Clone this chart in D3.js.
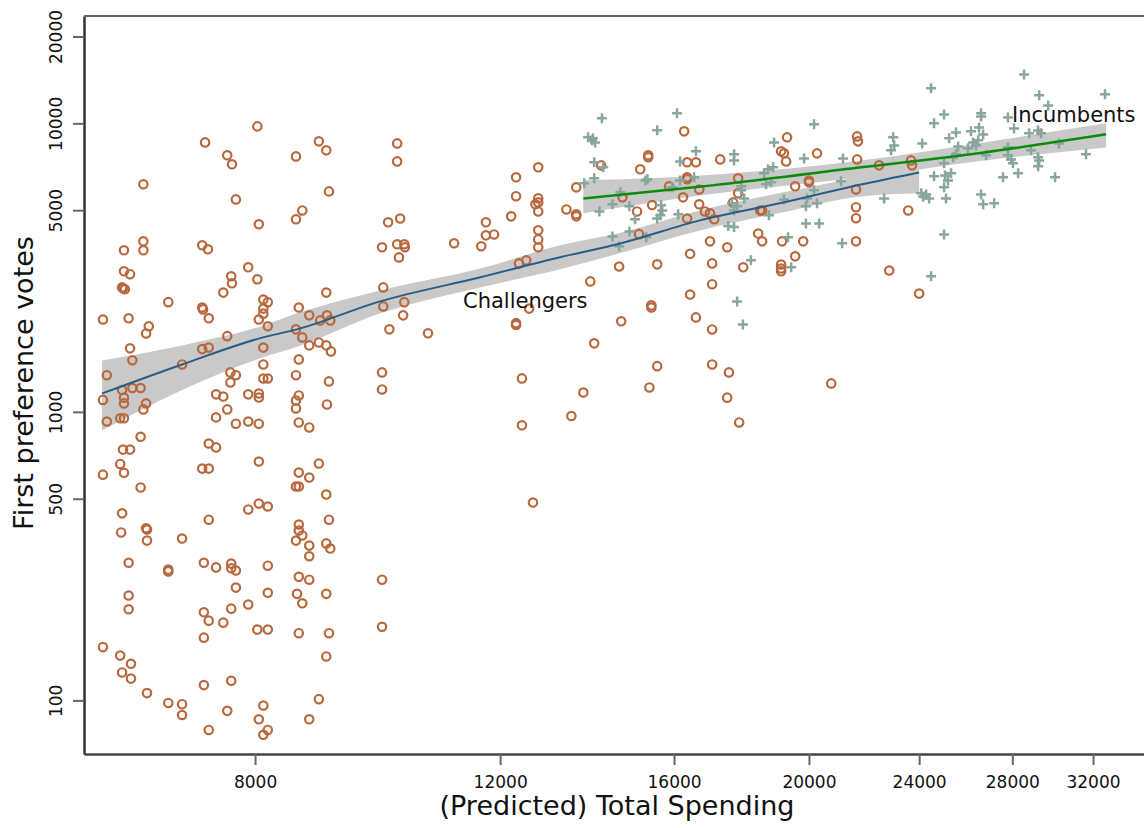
<!DOCTYPE html>
<html>
<head>
<meta charset="utf-8">
<script src="https://cdn.jsdelivr.net/npm/d3@7"></script>
<style>
    body { margin: 0; background: #fff; }
    text { font-family: "DejaVu Sans", sans-serif; fill: #111; }
</style>
</head>
<body>
<svg id="chart" width="1144" height="828"></svg>
<script>
// ticks
const xTicks = [8000, 12000, 16000, 20000, 24000, 28000, 32000];
const yTicks = [100, 500, 1000, 5000, 10000, 20000];

// [predicted spending, first preference votes]
const challengers = [
    [6220,2090],[6260,1340],[6220,1100],[6260,926],[6220,606],[6220,153],[6440,3630],[6440,3070],
    [6505,3000],[6430,2680],[6450,2660],[6420,2700],[6490,2110],[6505,1660],[6530,1510],[6420,1190],
    [6440,1120],[6440,1070],[6530,1210],[6620,1210],[6680,1070],[6650,1020],[6400,950],[6440,950],
    [6620,820],[6430,740],[6505,740],[6400,660],[6440,615],[6620,547],[6420,445],[6680,395],
    [6680,1870],[6710,1980],[6930,2400],[6650,6150],[6650,3900],[6650,3630],[6410,382],[6690,391],
    [6690,358],[7090,364],[6490,300],[6930,284],[6930,280],[6490,231],[6490,207],[6400,143],
    [6515,134],[6420,125],[6515,119],[6690,106],[6930,98],[7090,97],[7090,89],[7090,1460],
    [8030,9760],[7365,8590],[7640,7750],[7700,7210],[7750,5450],[8050,4470],[7330,3780],[7400,3660],
    [7910,3170],[7690,2950],[7700,2790],[8030,2880],[7590,2590],[8110,2450],[8170,2400],[8110,2280],
    [8110,2190],[8050,2090],[8170,1980],[7330,2300],[7340,2265],[7410,2110],[7640,1830],[8110,1670],
    [7410,1670],[7330,1650],[8110,1460],[7680,1370],[7750,1340],[7680,1265],[8110,1305],[8170,1305],
    [7500,1150],[7590,1130],[7910,1150],[8050,1158],[8050,1121],[7640,1020],[7500,957],[7750,910],
    [7910,926],[8050,910],[7410,777],[7500,753],[8050,673],[7330,636],[7410,636],[7910,459],
    [8050,481],[8170,470],[7410,423],[7350,300],[7500,289],[7690,298],[7690,287],[7750,282],
    [8170,293],[7750,246],[8170,236],[7350,202],[7410,189],[7590,186],[7690,208],[7910,215],
    [8030,176],[8170,176],[7350,165],[7350,113],[7690,117],[7640,92],[7410,79],[8110,96],
    [8050,86],[8170,79],[8110,76],
    [8560,7680],[8560,4650],[8650,4990],[8890,8660],[9000,8060],[9040,5810],[9000,2590],[8600,2300],
    [8750,2160],[9010,2160],[9060,2075],[8910,2075],[8560,1932],[8650,1812],[8750,1700],[8890,1740],
    [9000,1700],[9070,1620],[8600,1520],[8560,1340],[9040,1275],[8600,1140],[8560,1095],[8560,1028],
    [9010,1061],[8600,919],[8750,883],[8890,662],[8600,616],[8750,592],[8560,551],[8600,551],
    [9000,517],[9040,423],[8600,407],[8600,388],[8650,373],[8560,358],[8750,344],[9000,350],
    [9060,336],[8750,316],[8600,268],[8750,262],[8575,234],[8650,217],[9000,234],[8600,171],
    [9040,171],[9000,142],[8890,101],[8750,86],
    [10120,8520],[10120,7380],[9970,4540],[10170,4680],[9870,3720],[10120,3810],[10240,3810],[10250,3720],
    [10150,3430],[11120,3840],[9890,2700],[9890,2320],[10240,2400],[10220,2160],[9990,1932],[10650,1871],
    [9870,1370],[9870,1196],[9870,262],[9870,180],
    [11720,4540],[11720,4090],[11880,4120],[11630,3750],[12320,6500],[12320,5590],[12780,7040],[12780,5495],
    [12780,5320],[12720,5240],[12780,4950],[12220,4760],[12780,4260],[12780,3960],[12780,3720],[13390,5030],
    [13610,6000],[13610,4840],[13610,4760],[12380,3270],[12530,3350],[12320,2030],[12320,2000],[12440,1306],
    [12590,2280],[13500,967],[13770,1167],[12440,898],[12670,485],[13930,2833],[14020,1728],[14180,7150],
    [14660,2060],[14610,3190],[14690,5540],[15050,4950],[15130,6930],[15330,7750],[15330,7630],[15430,5210],
    [15100,4130],[15560,3245],[16270,9380],[16350,7330],[16590,7330],[16350,6500],[16350,6400],[15870,6050],
    [16680,5900],[16240,5540],[16680,5240],[16350,4680],[16840,4950],[16980,4880],[17100,4650],[17270,7500],
    [17790,6450],[17790,5720],[17640,5320],[16980,3900],[17470,3720],[16430,3530],[17040,3270],[17940,3170],
    [19100,8000],[19190,7870],[19260,7380],[19290,8940],[18450,4990],[18510,4990],[18390,4150],[18510,3900],
    [19130,3900],[19810,3900],[19550,3460],[19100,3240],[19100,3140],[19100,3070],[20000,6340],[20000,6250],
    [19550,6050],[20270,7870],[21660,9010],[21690,8660],[21660,7500],[21620,5900],[21620,5120],[21620,4690],
    [21620,3900],[15410,2340],[15410,2300],[16430,2550],[17040,2770],[16590,2125],[17040,1930],[15560,1440],
    [15360,1215],[17040,1460],[17520,1370],[17470,1120],[17820,919],[20750,1255],[24000,2570],[22840,3090],
    [22460,7150],[23680,7440],[23720,7150],[23570,4990]
];

const incumbents = [
    [24480,13230],[28550,14780],[29270,12500],[32640,12600],[29710,11540],[25010,10740],[26590,10830],[26590,10570],
    [24600,10000],[27800,10480],[28080,9600],[22990,8940],[23030,8380],[22910,8060],[24120,8520],[25510,9300],
    [25220,8870],[26150,9380],[26500,9680],[26680,9150],[26240,8590],[26460,8730],[26370,8380],[25600,8320],
    [26020,8190],[25510,7810],[26810,7750],[27800,8260],[27800,7750],[28790,9230],[29220,9450],[29360,9230],
    [28880,8060],[29220,7630],[29270,7440],[29220,7100],[27940,7500],[28030,7270],[30250,8520],[31630,7810],
    [28270,6710],[27570,6500],[30050,6500],[25010,7270],[24600,6550],[25050,6600],[25300,6710],[25170,6340],
    [25010,6000],[24080,5720],[24280,5670],[24400,5490],[24160,5580],[25090,5490],[22650,5490],[26590,5670],
    [26680,5240],[27170,5280],[25010,4120],[24480,2950],[25390,7630],
    [14200,10410],[16080,10830],[15560,9460],[13880,8940],[13990,8870],[14040,8590],[13970,8730],[18880,8590],
    [20170,9920],[16590,8000],[17670,7810],[17670,7440],[16160,7380],[14020,7330],[14230,7040],[14020,6450],
    [13790,6200],[15260,6340],[15310,6400],[16540,6500],[18690,6930],[18850,7040],[18570,6710],[19840,7560],
    [21160,7560],[18790,6250],[18630,6150],[17880,6050],[17880,5860],[16160,6340],[15950,6000],[14640,5770],
    [14450,5240],[14140,4950],[14860,5160],[15000,4650],[15660,5200],[15690,4990],[15560,4680],[15640,4800],
    [16110,4840],[17610,5280],[17760,5160],[17670,4990],[17970,5490],[19190,5450],[19940,5490],[20170,5860],
    [20270,5280],[19900,5160],[21090,6300],[17500,4410],[17670,4370],[18720,4800],[19900,4500],[20340,4500],
    [19320,4030],[21130,3840],[14450,4050],[14610,3750],[14860,4220],[15280,4030],[18170,3350],[19420,3170],
    [17760,2415],[17930,2010]
];

// smoothed fits: [spending, fit, lower, upper]
const challengerFit = [
    [6211,1158,862,1508],[7090,1460,1190,1700],[8106,1812,1545,1990],[8576,1932,1680,2195],
    [9838,2415,2195,2636],[11609,2926,2700,3140],[13250,3436,3120,3776],[14640,3835,3550,4180],
    [16700,4610,4256,4990],[19010,5270,4875,5720],[21800,6140,5580,6600],[24000,6760,5720,7640]
];
const incumbentFit = [
    [13770,5490,4875,6344],[16740,6040,5630,6600],[21800,7040,6500,7440],
    [26720,7930,7440,8590],[32700,9160,8250,10000]
];

let svg = d3.select("#chart");

let plotLeft = 84, plotTop = 16, plotRight = 1144, plotBottom = 754;

let xScale = d3.scaleLog()
    .domain([6028, 34815])
    .range([plotLeft, plotRight]);

let yScale = d3.scaleLog()
    .domain([65.2, 23550])
    .range([plotBottom, plotTop]);

// confidence bands
let band = d3.area()
    .curve(d3.curveMonotoneX)
    .x(d => xScale(d[0]))
    .y0(d => yScale(d[2]))
    .y1(d => yScale(d[3]));

svg.append("path")
    .datum(challengerFit)
    .attr("d", band)
    .style("fill", "#c9c9c9");

svg.append("path")
    .datum(incumbentFit)
    .attr("d", band)
    .style("fill", "#c9c9c9");

// challengers: hollow circles
svg.append("g").selectAll("circle")
    .data(challengers)
    .enter().append("circle")
    .attr("cx", d => xScale(d[0]))
    .attr("cy", d => yScale(d[1]))
    .attr("r", 4.2)
    .style("fill", "none")
    .style("stroke", "#b8683d")
    .style("stroke-width", 2.2);

// incumbents: plus signs
svg.append("g").selectAll("path")
    .data(incumbents)
    .enter().append("path")
    .attr("transform", d => "translate(" + xScale(d[0]) + "," + yScale(d[1]) + ")")
    .attr("d", "M-5,0H5M0,-5V5")
    .style("stroke", "#88a69e")
    .style("stroke-width", 2.5)
    .style("fill", "none");

// fitted lines
let fitLine = d3.line()
    .curve(d3.curveMonotoneX)
    .x(d => xScale(d[0]))
    .y(d => yScale(d[1]));

svg.append("path")
    .datum(challengerFit)
    .attr("d", fitLine)
    .style("fill", "none")
    .style("stroke", "#2a5d86")
    .style("stroke-width", 2);

svg.append("path")
    .datum(incumbentFit)
    .attr("d", fitLine)
    .style("fill", "none")
    .style("stroke", "#0a8c0a")
    .style("stroke-width", 2.5);

// axes
let xAxis = d3.axisBottom(xScale)
    .tickValues(xTicks)
    .tickFormat(d3.format("d"))
    .tickSize(11)
    .tickSizeOuter(0)
    .tickPadding(11);

let gx = svg.append("g")
    .attr("transform", "translate(0," + plotBottom + ")")
    .call(xAxis);
gx.select(".domain").style("stroke", "#444").style("stroke-width", 2.5);
gx.selectAll(".tick line").style("stroke", "#666").style("stroke-width", 2);
gx.selectAll("text").style("font-size", "17px").style("font-family", "DejaVu Sans");

let yAxis = d3.axisLeft(yScale)
    .tickValues(yTicks)
    .tickFormat(d3.format("d"))
    .tickSize(11)
    .tickSizeOuter(0);

let gy = svg.append("g")
    .attr("transform", "translate(" + plotLeft + ",0)")
    .call(yAxis);
gy.select(".domain").style("stroke", "#333").style("stroke-width", 2.5);
gy.selectAll(".tick line").style("stroke", "#666").style("stroke-width", 2);
gy.selectAll("text")
    .attr("transform", "rotate(-90)")
    .attr("x", 0)
    .attr("y", -22)
    .attr("dy", 0)
    .style("text-anchor", "middle")
    .style("font-size", "17px")
    .style("font-family", "DejaVu Sans");

// top frame line
svg.append("line")
    .attr("x1", plotLeft).attr("x2", plotRight)
    .attr("y1", plotTop).attr("y2", plotTop)
    .style("stroke", "#666")
    .style("stroke-width", 2);

// titles
svg.append("text")
    .attr("x", 617)
    .attr("y", 815)
    .style("text-anchor", "middle")
    .style("font-size", "27px")
    .text("(Predicted) Total Spending");

svg.append("text")
    .attr("transform", "translate(33,383) rotate(-90)")
    .style("text-anchor", "middle")
    .style("font-size", "27px")
    .text("First preference votes");

// group labels
svg.append("text")
    .attr("x", 463)
    .attr("y", 308)
    .style("font-size", "21px")
    .text("Challengers");

svg.append("text")
    .attr("x", 1012)
    .attr("y", 122)
    .style("font-size", "21px")
    .text("Incumbents");
</script>
</body>
</html>
